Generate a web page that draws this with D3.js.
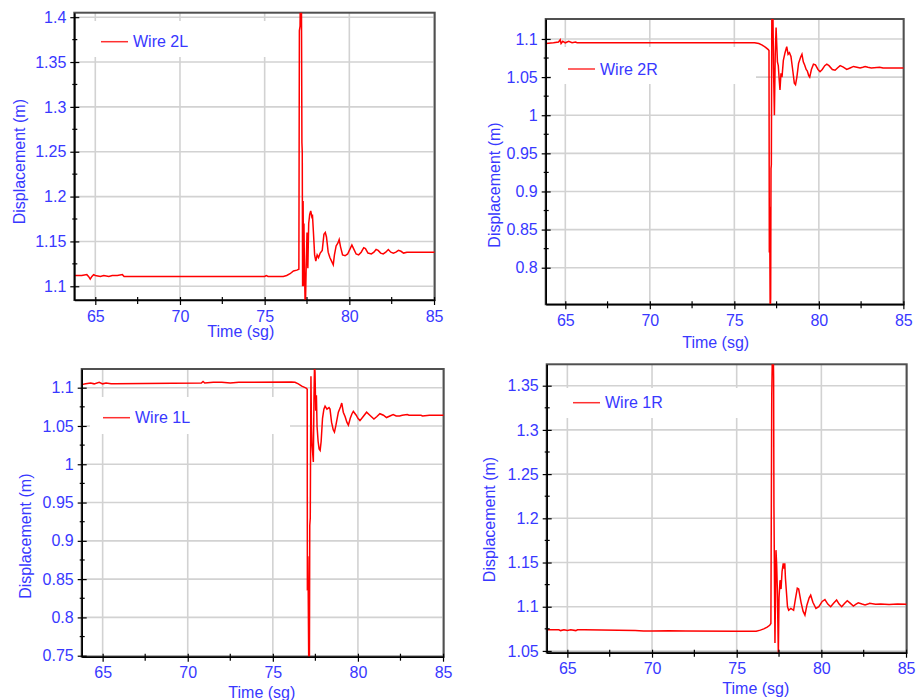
<!DOCTYPE html>
<html>
<head>
<meta charset="utf-8">
<script src="https://cdn.jsdelivr.net/npm/d3@7"></script>
<style>
  body { margin: 0; background: #fff; }
  svg text { font-family: "Liberation Sans", Arial, sans-serif; font-size: 16px; fill: #3838ff; }
</style>
</head>
<body>
<svg id="chart" width="916" height="700"></svg>
<script>
// time (sg), displacement (m)
var wire2L = [[63.76,1.112],[64.2,1.112],[64.5,1.113],[64.6,1.111],[64.7,1.108],[64.8,1.111],[64.9,1.113],[65.0,1.112],[65.3,1.111],[65.5,1.112],[65.8,1.111],[66.0,1.112],[66.3,1.112],[66.6,1.113],[66.7,1.111],[70,1.111],[75,1.111],[75.1,1.112],[75.2,1.111],[76.1,1.111],[76.3,1.112],[76.5,1.114],[76.7,1.117],[76.9,1.118],[77.02,1.119],[77.05,1.385],[77.09,1.39],[77.11,1.43],[77.17,1.43],[77.2,1.26],[77.22,1.25],[77.24,1.10],[77.27,1.195],[77.30,1.10],[77.32,1.17],[77.35,1.12],[77.40,1.07],[77.45,1.12],[77.50,1.16],[77.55,1.12],[77.60,1.17],[77.66,1.18],[77.72,1.184],[77.78,1.178],[77.82,1.18],[77.88,1.16],[77.95,1.135],[78.02,1.128],[78.10,1.135],[78.18,1.132],[78.28,1.137],[78.40,1.14],[78.50,1.158],[78.58,1.16],[78.65,1.155],[78.75,1.138],[78.85,1.132],[78.95,1.128],[79.05,1.124],[79.12,1.135],[79.22,1.145],[79.32,1.148],[79.40,1.152],[79.48,1.144],[79.60,1.135],[79.75,1.134],[79.90,1.136],[80.05,1.142],[80.15,1.146],[80.25,1.142],[80.40,1.136],[80.55,1.135],[80.70,1.138],[80.85,1.143],[80.95,1.142],[81.10,1.137],[81.30,1.136],[81.45,1.138],[81.58,1.141],[81.70,1.140],[81.85,1.137],[82.00,1.136],[82.15,1.138],[82.30,1.141],[82.45,1.138],[82.60,1.137],[82.75,1.138],[82.90,1.140],[83.05,1.139],[83.2,1.137],[83.4,1.138],[85.04,1.138]]

var wire2R = [[63.84,1.094],[64.3,1.095],[64.6,1.096],[64.7,1.099],[64.75,1.094],[64.85,1.097],[65.0,1.095],[65.2,1.097],[65.4,1.095],[65.6,1.096],[65.7,1.095],[66.0,1.095],[76.2,1.095],[76.45,1.094],[76.65,1.092],[76.85,1.089],[77.01,1.086],[77.05,1.085],[77.07,0.82],[77.08,0.88],[77.10,0.83],[77.12,0.74],[77.15,0.76],[77.17,0.93],[77.19,0.935],[77.22,1.14],[77.28,1.14],[77.32,1.06],[77.37,1.0],[77.42,1.08],[77.47,1.115],[77.55,1.07],[77.60,1.065],[77.66,1.045],[77.70,1.033],[77.76,1.055],[77.82,1.05],[77.90,1.072],[78.00,1.082],[78.10,1.09],[78.18,1.08],[78.26,1.082],[78.35,1.077],[78.45,1.06],[78.55,1.042],[78.62,1.04],[78.70,1.05],[78.80,1.068],[78.92,1.076],[79.00,1.08],[79.08,1.07],[79.16,1.066],[79.25,1.06],[79.32,1.058],[79.40,1.052],[79.46,1.05],[79.56,1.06],[79.68,1.067],[79.80,1.066],[79.95,1.06],[80.07,1.057],[80.20,1.06],[80.35,1.065],[80.47,1.067],[80.60,1.065],[80.80,1.06],[80.96,1.059],[81.10,1.062],[81.26,1.065],[81.45,1.063],[81.65,1.060],[81.85,1.062],[82.05,1.064],[82.25,1.063],[82.44,1.062],[82.60,1.063],[82.74,1.064],[82.90,1.063],[83.1,1.062],[83.6,1.063],[83.8,1.062],[85.02,1.062]]

var wire1L = [[63.77,1.104],[64.0,1.105],[64.3,1.106],[64.5,1.105],[64.8,1.107],[65.0,1.105],[65.2,1.106],[65.5,1.105],[65.7,1.105],[70.8,1.106],[70.9,1.108],[71.0,1.106],[71.5,1.107],[72.0,1.107],[72.5,1.106],[73.0,1.107],[76.1,1.1075],[76.3,1.107],[76.5,1.105],[76.7,1.102],[76.9,1.100],[76.98,1.099],[77.02,1.098],[77.03,0.835],[77.06,0.88],[77.08,0.83],[77.11,0.74],[77.15,0.74],[77.17,0.92],[77.20,0.93],[77.24,1.115],[77.27,1.05],[77.30,1.027],[77.38,1.003],[77.42,1.09],[77.45,1.13],[77.48,1.12],[77.52,1.07],[77.56,1.09],[77.60,1.049],[77.66,1.03],[77.72,1.02],[77.78,1.018],[77.84,1.03],[77.92,1.06],[78.00,1.072],[78.07,1.076],[78.18,1.072],[78.30,1.074],[78.36,1.072],[78.45,1.055],[78.55,1.045],[78.62,1.042],[78.70,1.05],[78.85,1.068],[78.98,1.075],[79.05,1.08],[79.14,1.068],[79.25,1.062],[79.35,1.055],[79.44,1.051],[79.55,1.06],[79.65,1.066],[79.73,1.069],[79.90,1.064],[80.00,1.06],[80.12,1.057],[80.30,1.062],[80.51,1.068],[80.70,1.064],[80.94,1.059],[81.10,1.062],[81.29,1.066],[81.50,1.064],[81.68,1.061],[81.88,1.063],[82.07,1.065],[82.25,1.063],[82.45,1.063],[82.60,1.064],[82.9,1.065],[83.0,1.064],[83.7,1.064],[83.8,1.063],[84.2,1.064],[85.04,1.064]]

var wire1R = [[63.78,1.074],[64.5,1.074],[64.6,1.073],[64.8,1.074],[65.0,1.073],[65.2,1.074],[65.5,1.073],[65.6,1.074],[66.0,1.074],[68.0,1.0735],[69.0,1.073],[69.5,1.0725],[70.0,1.0725],[71.0,1.0728],[72.0,1.0725],[75.0,1.0722],[76.15,1.0722],[76.4,1.0735],[76.6,1.075],[76.8,1.077],[76.95,1.079],[77.02,1.081],[77.07,1.338],[77.11,1.39],[77.16,1.39],[77.18,1.36],[77.2,1.213],[77.26,1.059],[77.32,1.164],[77.36,1.148],[77.40,1.12],[77.46,1.047],[77.50,1.11],[77.56,1.13],[77.62,1.12],[77.68,1.14],[77.75,1.149],[77.80,1.143],[77.84,1.149],[77.88,1.132],[78.00,1.10],[78.07,1.096],[78.20,1.098],[78.36,1.096],[78.48,1.11],[78.58,1.121],[78.66,1.12],[78.80,1.105],[78.92,1.095],[79.03,1.0906],[79.15,1.102],[79.28,1.11],[79.37,1.113],[79.50,1.105],[79.68,1.098],[79.85,1.1],[80.05,1.106],[80.21,1.108],[80.38,1.103],[80.55,1.1],[80.72,1.104],[80.90,1.1076],[81.05,1.103],[81.20,1.1],[81.38,1.104],[81.53,1.1068],[81.70,1.104],[81.89,1.1008],[82.05,1.103],[82.18,1.1045],[82.40,1.103],[82.58,1.102],[82.75,1.103],[82.85,1.1038],[83.2,1.1027],[83.5,1.103],[84.0,1.1025],[84.5,1.103],[85.04,1.1027]]

var xTicks = [65, 70, 75, 80, 85]
var xMinorTicks = [67.5, 72.5, 77.5, 82.5]
var yTicks2L = [1.1, 1.15, 1.2, 1.25, 1.3, 1.35, 1.4]
var yTicks2R = [0.8, 0.85, 0.9, 0.95, 1, 1.05, 1.1]
var yTicks1L = [0.75, 0.8, 0.85, 0.9, 0.95, 1, 1.05, 1.1]
var yTicks1R = [1.05, 1.1, 1.15, 1.2, 1.25, 1.3, 1.35]
var legendNames = ["Wire 2L", "Wire 2R", "Wire 1L", "Wire 1R"]

var xTitle = "Time (sg)"
var yTitle = "Displacement (m)"

var panels = [
  { name: legendNames[0], data: wire2L, yTicks: yTicks2L, xDom: [63.76, 85.04], yDom: [1.0847, 1.405],
    l: 74.3, r: 434.7, t: 12.7, b: 300, leg: [101, 41.7], legBox: [80, 21, 195, 36],
    xt: [240.8, 337.3], yt: [19.3, 161.7] },
  { name: legendNames[1], data: wire2R, yTicks: yTicks2R, xDom: [63.84, 85.02], yDom: [0.752, 1.1262],
    l: 545.7, r: 903.7, t: 19, b: 304.3, leg: [568, 69], legBox: [551, 47, 205, 37],
    xt: [715.7, 348.3], yt: [493.8, 185] },
  { name: legendNames[2], data: wire1L, yTicks: yTicks1L, xDom: [63.77, 85.04], yDom: [0.7487, 1.1244],
    l: 81.7, r: 443.7, t: 369, b: 656.7, leg: [103, 417.7], legBox: [90, 397, 200, 37],
    xt: [261.8, 698], yt: [25, 536.2] },
  { name: legendNames[3], data: wire1R, yTicks: yTicks1R, xDom: [63.78, 85.04], yDom: [1.048, 1.3742],
    l: 546.7, r: 906.7, t: 364.3, b: 652.7, leg: [573, 402.7], legBox: [555, 388, 190, 30],
    xt: [755.8, 694], yt: [489.5, 519.5] }
]

var svg = d3.select("#chart")
var fmt = function(d) { return String(+d.toFixed(3)) }

panels.forEach(function(p, i) {
  var x = d3.scaleLinear().domain(p.xDom).range([p.l, p.r])
  var y = d3.scaleLinear().domain(p.yDom).range([p.b, p.t])
  var g = svg.append("g")

  // minor y ticks sit half way between labelled ones
  var yMinor = []
  for (var k = 0; k < p.yTicks.length - 1; k++) {
    yMinor.push((p.yTicks[k] + p.yTicks[k + 1]) / 2)
  }

  // grid
  g.selectAll(".gx").data(xTicks).enter().append("line")
    .attr("x1", d => x(d)).attr("x2", d => x(d))
    .attr("y1", p.t).attr("y2", p.b)
    .attr("stroke", "#d2d2d2").attr("stroke-width", 1.6)
  g.selectAll(".gy").data(p.yTicks).enter().append("line")
    .attr("x1", p.l).attr("x2", p.r)
    .attr("y1", d => y(d)).attr("y2", d => y(d))
    .attr("stroke", "#d2d2d2").attr("stroke-width", 1.6)

  // frame
  g.append("rect")
    .attr("x", p.l).attr("y", p.t)
    .attr("width", p.r - p.l).attr("height", p.b - p.t)
    .attr("fill", "none").attr("stroke", "#505050").attr("stroke-width", 2)

  // trace
  var clipId = "clip" + i
  g.append("clipPath").attr("id", clipId)
    .append("rect").attr("x", p.l).attr("y", p.t)
    .attr("width", p.r - p.l).attr("height", p.b - p.t)

  var line = d3.line().x(d => x(d[0])).y(d => y(d[1]))
  g.append("path")
    .datum(p.data)
    .attr("clip-path", "url(#" + clipId + ")")
    .attr("d", line)
    .attr("fill", "none")
    .attr("stroke", "#ff0000")
    .attr("stroke-width", 1.5)
    .attr("stroke-linejoin", "miter")

  // legend
  g.append("rect")
    .attr("x", p.legBox[0]).attr("y", p.legBox[1])
    .attr("width", p.legBox[2]).attr("height", p.legBox[3])
    .attr("fill", "#fff")
  g.append("line")
    .attr("x1", p.leg[0]).attr("x2", p.leg[0] + 27)
    .attr("y1", p.leg[1]).attr("y2", p.leg[1])
    .attr("stroke", "#ff3030").attr("stroke-width", 1.5)
  g.append("text")
    .attr("x", p.leg[0] + 32).attr("y", p.leg[1] + 5.6)
    .text(p.name)

  // axes
  var yAxis = g.append("g")
    .attr("transform", "translate(" + p.l + ",0)")
    .call(d3.axisLeft(y).tickValues(p.yTicks).tickFormat(fmt).tickSize(4).tickSizeOuter(0).tickPadding(4))
  yAxis.selectAll(".tick line").attr("x1", 5).attr("stroke", "#000").attr("stroke-width", 1.2)
  yAxis.selectAll(".tick text").attr("fill", "#3838ff").style("font-size", "16px")
  yAxis.select(".domain").attr("stroke", "#000").attr("stroke-width", 1.6)
  yAxis.selectAll(".minor").data(yMinor).enter().append("line")
    .attr("x1", -2).attr("x2", 3)
    .attr("y1", d => y(d)).attr("y2", d => y(d))
    .attr("stroke", "#000").attr("stroke-width", 1.2)

  var xAxis = g.append("g")
    .attr("transform", "translate(0," + p.b + ")")
    .call(d3.axisBottom(x).tickValues(xTicks).tickFormat(fmt).tickSize(5).tickSizeOuter(0).tickPadding(5.3))
  xAxis.selectAll(".tick line").attr("y1", -3).attr("stroke", "#000").attr("stroke-width", 1.2)
  xAxis.selectAll(".tick text").attr("fill", "#3838ff").style("font-size", "16px")
  xAxis.select(".domain").attr("stroke", "#000").attr("stroke-width", 1.6)
  xAxis.selectAll(".minor").data(xMinorTicks).enter().append("line")
    .attr("x1", d => x(d)).attr("x2", d => x(d))
    .attr("y1", -3).attr("y2", 4)
    .attr("stroke", "#000").attr("stroke-width", 1.2)

  // titles
  g.append("text")
    .attr("x", p.xt[0]).attr("y", p.xt[1])
    .attr("text-anchor", "middle")
    .text(xTitle)
  g.append("text")
    .attr("transform", "translate(" + (p.yt[0] + 5.7) + "," + p.yt[1] + ") rotate(-90)")
    .attr("text-anchor", "middle")
    .text(yTitle)
})
</script>
</body>
</html>
